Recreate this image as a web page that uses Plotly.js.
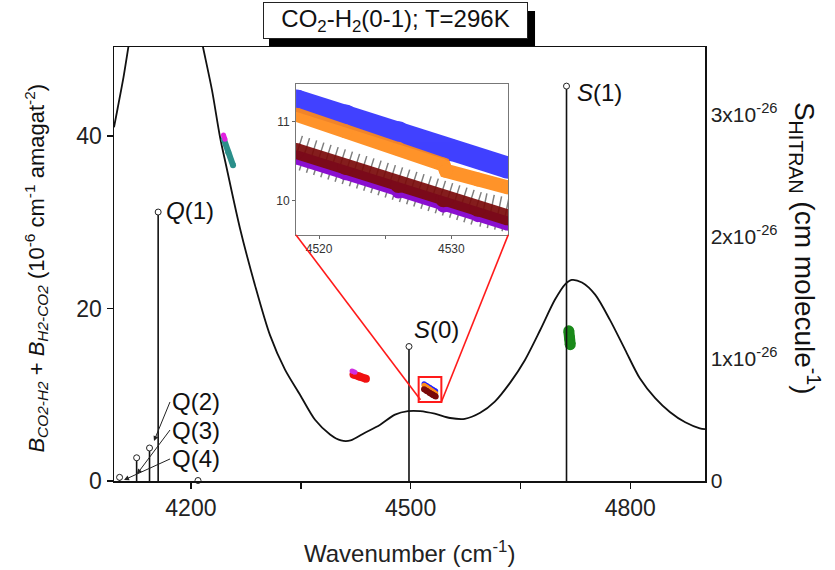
<!DOCTYPE html>
<html>
<head>
<meta charset="utf-8">
<script src="https://cdn.plot.ly/plotly-3.0.1.min.js"></script>
<style>html,body{margin:0;padding:0;background:#fff;}#chart{width:835px;height:570px;}</style>
</head>
<body>
<div id="chart"></div>
<script>
// ---------- data ----------
// calculated B(CO2-H2)+B(H2-CO2) spectrum (left axis, 1e-6 cm-1 amagat-2)
const curveX = [4095, 4100, 4108, 4115, 4125, 4150, 4175, 4200, 4216.5, 4228.8, 4239.7, 4249.3, 4267, 4287.5, 4308, 4328.5, 4349, 4369.5, 4390, 4405, 4418, 4437.7, 4458, 4478.7, 4496.4, 4513, 4533, 4554, 4574, 4595, 4615, 4636, 4656, 4677, 4697, 4711, 4720, 4734, 4752, 4772, 4793, 4813, 4834, 4854, 4875, 4895, 4902];
const curveY = [41.0, 43.2, 46.8, 50.5, 56, 63, 63, 57, 50.3, 45.3, 39.9, 36.1, 29.3, 22.7, 16.9, 12.9, 10.0, 7.1, 5.4, 4.7, 4.7, 5.6, 6.5, 7.7, 8.1, 8.1, 7.8, 7.3, 7.2, 7.9, 9.2, 11.4, 14.0, 17.5, 21.0, 22.8, 23.3, 23.0, 21.6, 18.7, 15.2, 11.9, 9.6, 8.0, 6.8, 6.1, 6.0];

// HITRAN H2 lines (right axis, cm/molecule)
const hitranNames = ['Q(4)', 'Q(3)', 'Q(2)', 'Q(1)', '', 'S(0)', 'S(1)'];
const hitranX = [4102.6, 4125.9, 4143.5, 4155.3, 4209.7, 4497.8, 4712.9];
const hitranS = [0.03e-26, 0.19e-26, 0.27e-26, 2.20e-26, 0.004e-26, 1.10e-26, 3.23e-26];

// measured points (main plot)
const tealX = [4245, 4251, 4257.5];
const tealY = [39.6, 38.1, 36.6];
const magentaAX = [4244.5, 4246.5];
const magentaAY = [40.1, 39.6];
const redX = [4422, 4430, 4439];
const redY = [12.35, 12.1, 11.85];
const magentaBX = [4420, 4424];
const magentaBY = [12.75, 12.6];
const greenX = [4716, 4717, 4718];
const greenY = [17.4, 16.6, 15.8];

// zoomed region near 4520-4534 cm-1 (inset and red box)
const blueX = [4518.3, 4522, 4526, 4530, 4534.3];
const blueY = [11.27, 11.08, 10.87, 10.64, 10.42];
const orangeX = [4518.3, 4522, 4526, 4529.4, 4529.6, 4532, 4534.3];
const orangeY = [11.09, 10.88, 10.66, 10.46, 10.38, 10.27, 10.17];
const maroonX = [4518.3, 4522, 4526, 4529.4, 4529.6, 4532, 4534.3];
const maroonY = [10.63, 10.43, 10.20, 10.02, 10.03, 9.90, 9.79];
const purpleY = [10.55, 10.35, 10.12, 9.94, 9.95, 9.82, 9.71];
const blackY = [10.62, 10.40, 10.18, 10.00, 10.00, 9.90, 9.82];

// axis settings
const xRange = [4095, 4902];
const yRange = [0, 50.3];
const y2Range = [0, 3.55e-26];
const insetXRange = [4518.26, 4534.3];
const insetYRange = [9.57, 11.48];
const boxX = [4511, 4542];
const boxY = [9.16, 12.06];
const insetDomX = [0.308, 0.667];
const insetDomY = [0.567, 0.915];

// ---------- traces ----------
const FONT = 'Liberation Sans, Arial, sans-serif';
const traces = [];

traces.push({x: curveX, y: curveY, mode: 'lines', line: {color: '#111', width: 1.8, shape: 'spline', smoothing: 0.8}, xaxis: 'x', yaxis: 'y', hoverinfo: 'skip'});

// sticks
const sx = [], sy = [];
hitranX.forEach((x, i) => { sx.push(x, x, null); sy.push(0, hitranS[i], null); });
traces.push({x: sx, y: sy, mode: 'lines', line: {color: '#111', width: 1.6}, xaxis: 'x', yaxis: 'y2', hoverinfo: 'skip'});
traces.push({x: hitranX, y: hitranS, mode: 'markers', marker: {symbol: 'circle', size: 6, color: '#fff', line: {color: '#222', width: 1}}, xaxis: 'x', yaxis: 'y2', cliponaxis: false, hoverinfo: 'skip'});

function band(x, y, color, w, ax, ay, extra) {
  const t = {x: x, y: y, mode: 'lines+markers', line: {color: color, width: w}, marker: {color: color, size: w}, xaxis: ax, yaxis: ay, hoverinfo: 'skip'};
  return Object.assign(t, extra || {});
}
traces.push(band(tealX, tealY, '#2a8f8a', 6, 'x', 'y'));
traces.push(band(magentaAX, magentaAY, '#e020e0', 5, 'x', 'y'));
traces.push(band(redX, redY, '#f01010', 8, 'x', 'y'));
traces.push(band(magentaBX, magentaBY, '#d030e0', 5, 'x', 'y'));
traces.push(band(greenX, greenY, '#1a8a1a', 11, 'x', 'y'));
// small cluster in main plot
traces.push(band(blueX, blueY, '#2020ff', 5, 'x', 'y'));
traces.push(band(orangeX, orangeY, '#ff8c1a', 5, 'x', 'y'));
traces.push(band(maroonX, maroonY, '#7a0a0a', 6, 'x', 'y'));

// inset
traces.push({x: maroonX, y: blackY, mode: 'lines', line: {color: '#000', width: 34, dash: '1.5px,6px'}, opacity: 0.5, xaxis: 'x2', yaxis: 'y3', hoverinfo: 'skip'});
traces.push(band(blueX, blueY, '#2222ff', 22, 'x2', 'y3', {opacity: 0.85}));
traces.push(band(orangeX, orangeY, '#ff8a18', 14, 'x2', 'y3', {opacity: 0.92}));
traces.push(band(maroonX, purpleY, '#8a10d0', 14, 'x2', 'y3'));
traces.push(band(maroonX, maroonY, '#7a0a0a', 16, 'x2', 'y3', {opacity: 0.92}));

// ---------- helpers for connector lines ----------
function toPaperX(v) { return (v - xRange[0]) / (xRange[1] - xRange[0]); }
function toPaperY(v) { return (v - yRange[0]) / (yRange[1] - yRange[0]); }

const shapes = [
  // title shadow
  {type: 'rect', xref: 'paper', yref: 'paper', x0: 0.2623, x1: 0.7124, y0: 1.0, y1: 1.0829, fillcolor: '#000', line: {width: 0}, layer: 'below'},
  // red box
  {type: 'rect', xref: 'x', yref: 'y', x0: boxX[0], x1: boxX[1], y0: boxY[0], y1: boxY[1], line: {color: '#ff1a1a', width: 2}},
  // connectors
  {type: 'line', xref: 'paper', yref: 'paper', x0: insetDomX[0], y0: insetDomY[0], x1: toPaperX(boxX[0]) + 0.003, y1: toPaperY(boxY[0]) + 0.005, line: {color: '#ff1a1a', width: 1.6}},
  {type: 'line', xref: 'paper', yref: 'paper', x0: insetDomX[1], y0: insetDomY[0], x1: toPaperX(boxX[1]), y1: toPaperY(boxY[0]), line: {color: '#ff1a1a', width: 1.6}}
];

const tf = {family: FONT, size: 24, color: '#111'};
const annotations = [
  {xref: 'paper', yref: 'paper', x: 0.4755, y: 1.061, xanchor: 'center', yanchor: 'middle', text: 'CO<sub>2</sub>-H<sub>2</sub>(0-1); T=296K', showarrow: false, width: 259, height: 31, bgcolor: '#fff', bordercolor: '#222', borderwidth: 1, borderpad: 2, font: {family: FONT, size: 24, color: '#111'}},
  {xref: 'paper', yref: 'paper', x: 0.5008, y: -0.1636, xanchor: 'center', yanchor: 'middle', text: 'Wavenumber (cm<sup>-1</sup>)', showarrow: false, font: {family: FONT, size: 24, color: '#222'}},
  {xref: 'paper', yref: 'paper', x: -0.131, y: 0.4908, xanchor: 'center', yanchor: 'middle', textangle: -90, text: '<i>B</i><sub><i>CO2-H2</i></sub> + <i>B</i><sub><i>H2-CO2</i></sub> (10<sup>-6</sup> cm<sup>-1</sup> amagat<sup>-2</sup>)', showarrow: false, font: {family: FONT, size: 22, color: '#111'}},
  {xref: 'paper', yref: 'paper', x: 1.169, y: 0.535, xanchor: 'center', yanchor: 'middle', textangle: 90, text: 'S<sub>HITRAN</sub> (cm molecule<sup>-1</sup>)', showarrow: false, font: {family: FONT, size: 28, color: '#111'}},
  {xref: 'x', yref: 'y', x: 4163.3, y: 31.4, xanchor: 'left', yanchor: 'middle', text: '<i>Q</i>(1)', showarrow: false, font: tf},
  {xref: 'x', yref: 'y', x: 4536, y: 17.6, xanchor: 'center', yanchor: 'middle', text: '<i>S</i>(0)', showarrow: false, font: tf},
  {xref: 'x', yref: 'y', x: 4724.5, y: 45.0, xanchor: 'left', yanchor: 'middle', text: '<i>S</i>(1)', showarrow: false, font: tf},
  {xref: 'x', yref: 'y', x: 4149.6, y: 4.64, ax: 16, ay: -39, xanchor: 'left', text: 'Q(2)', showarrow: true, arrowhead: 2, arrowsize: 1, arrowwidth: 1, arrowcolor: '#222', font: tf},
  {xref: 'x', yref: 'y', x: 4126.4, y: 0.81, ax: 33, ay: -44, xanchor: 'left', text: 'Q(3)', showarrow: true, arrowhead: 2, arrowsize: 1, arrowwidth: 1, arrowcolor: '#222', font: tf},
  {xref: 'x', yref: 'y', x: 4108.7, y: 0.12, ax: 46, ay: -21, xanchor: 'left', text: 'Q(4)', showarrow: true, arrowhead: 2, arrowsize: 1, arrowwidth: 1, arrowcolor: '#222', font: tf}
];

const layout = {
  width: 835, height: 570,
  margin: {l: 114, r: 130, t: 47, b: 89},
  paper_bgcolor: '#fff', plot_bgcolor: 'rgba(0,0,0,0)',
  showlegend: false,
  font: {family: FONT, color: '#111'},
  xaxis: {range: xRange, tickvals: [4200, 4350, 4500, 4650, 4800], ticktext: ['4200', '', '4500', '', '4800'], ticks: 'outside', ticklen: 6, tickwidth: 1.5, tickcolor: '#111', showline: true, linewidth: 1.5, linecolor: '#111', mirror: true, showgrid: false, zeroline: false, tickfont: {family: FONT, size: 23, color: '#222'}},
  yaxis: {range: yRange, tickvals: [0, 20, 40], ticks: 'outside', ticklen: 6, tickwidth: 1.5, tickcolor: '#111', showline: true, linewidth: 1.5, linecolor: '#111', showgrid: false, zeroline: false, tickfont: {family: FONT, size: 23, color: '#222'}},
  yaxis2: {range: y2Range, overlaying: 'y', side: 'right', tickvals: [0, 1e-26, 2e-26, 3e-26], ticktext: ['0', '1x10<sup>-26</sup>', '2x10<sup>-26</sup>', '3x10<sup>-26</sup>'], ticks: '', showline: true, linewidth: 1.5, linecolor: '#111', showgrid: false, zeroline: false, tickfont: {family: FONT, size: 21, color: '#222'}},
  xaxis2: {domain: insetDomX, anchor: 'y3', range: insetXRange, tickvals: [4520, 4525, 4530], ticktext: ['4520', '', '4530'], ticks: 'outside', ticklen: 3, tickcolor: '#666', showline: true, mirror: true, linecolor: '#777', linewidth: 1, showgrid: false, zeroline: false, tickfont: {family: FONT, size: 12, color: '#333'}},
  yaxis3: {domain: insetDomY, anchor: 'x2', range: insetYRange, tickvals: [10, 11], ticks: 'outside', ticklen: 3, tickcolor: '#666', showline: true, mirror: true, linecolor: '#777', linewidth: 1, showgrid: false, zeroline: false, tickfont: {family: FONT, size: 12, color: '#333'}},
  shapes: shapes,
  annotations: annotations
};

Plotly.newPlot('chart', traces, layout, {staticPlot: true, displayModeBar: false});
</script>
</body>
</html>
